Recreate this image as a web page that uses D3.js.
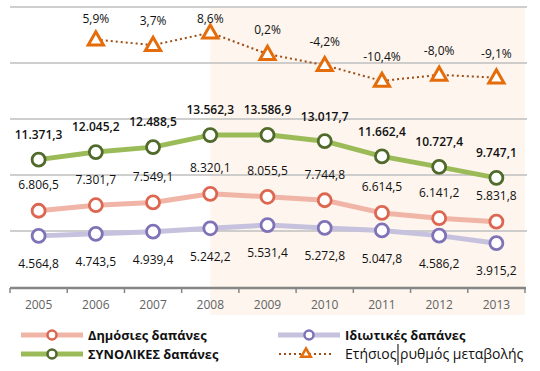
<!DOCTYPE html>
<html>
<head>
<meta charset="utf-8">
<script src="https://cdn.jsdelivr.net/npm/d3@7"></script>
<style>
  body { margin: 0; background: #fff; }
  svg text { font-family: "Open Sans", "Noto Sans", sans-serif; }
</style>
</head>
<body>
<div id="chart"></div>
<script>
// data
const years = ["2005", "2006", "2007", "2008", "2009", "2010", "2011", "2012", "2013"];
const publicSpend = [6806.5, 7301.7, 7549.1, 8320.1, 8055.5, 7744.8, 6614.5, 6141.2, 5831.8];
const privateSpend = [4564.8, 4743.5, 4939.4, 5242.2, 5531.4, 5272.8, 5047.8, 4586.2, 3915.2];
const totalSpend = [11371.3, 12045.2, 12488.5, 13562.3, 13586.9, 13017.7, 11662.4, 10727.4, 9747.1];
const changeYears = ["2006", "2007", "2008", "2009", "2010", "2011", "2012", "2013"];
const changePct = [5.9, 3.7, 8.6, 0.2, -4.2, -10.4, -8.0, -9.1];
const gridTicks = [0, 5000, 10000, 15000, 20000, 25000];
const shadedFrom = "2008";

const width = 540, height = 371;
const plotLeft = 10, plotRight = 525, plotTop = 7, plotBottom = 287;

const svg = d3.select("#chart").append("svg")
  .attr("width", width)
  .attr("height", height);

const x = d3.scaleBand().domain(years).range([plotLeft, plotRight]).padding(0);
const cx = d => x(d) + x.bandwidth() / 2;
const y = d3.scaleLinear().domain([0, 25000]).range([plotBottom, plotTop]);
const yPct = d3.scaleLinear().domain([-91.5, 18.7]).range([plotBottom, plotTop]);

const fmtNum = v => d3.format(",.1f")(v).replace(/,/g, "#").replace(".", ",").replace(/#/g, ".");
const fmtPct = v => d3.format(".1f")(v).replace(".", ",").replace("−", "-") + "%";

// shaded period
svg.append("rect")
  .attr("x", cx(shadedFrom))
  .attr("y", plotTop)
  .attr("width", plotRight - cx(shadedFrom))
  .attr("height", 315 - plotTop)
  .attr("fill", "#fdf5ee");

// gridlines
svg.append("g")
  .selectAll("line")
  .data(gridTicks.slice(1))
  .enter()
  .append("line")
  .attr("x1", plotLeft)
  .attr("x2", plotRight + 2)
  .attr("y1", d => y(d))
  .attr("y2", d => y(d))
  .attr("stroke", "#bfbfbf")
  .attr("stroke-width", 1.5);

// x axis: labels from axisBottom, ticks on category edges
const axis = svg.append("g")
  .attr("transform", "translate(0," + (plotBottom + 1) + ")")
  .call(d3.axisBottom(x).tickSize(0).tickPadding(12));
axis.select(".domain").remove();
axis.selectAll("text")
  .attr("font-size", 12)
  .attr("fill", "#636363")
  .style("font-family", "'Open Sans', sans-serif");

svg.append("line")
  .attr("x1", plotLeft).attr("x2", plotRight + 1)
  .attr("y1", plotBottom + 1).attr("y2", plotBottom + 1)
  .attr("stroke", "#868686").attr("stroke-width", 2.5);
svg.append("g")
  .selectAll("line")
  .data(years.map(d => x(d)).concat([plotRight]))
  .enter()
  .append("line")
  .attr("x1", d => d).attr("x2", d => d)
  .attr("y1", plotBottom + 1).attr("y2", plotBottom + 6)
  .attr("stroke", "#868686").attr("stroke-width", 1.5);

// circle-marker series
function drawSeries(values, lineColor, markerColor, labelDy, weight) {
  const pts = values.map((v, i) => [cx(years[i]), y(v)]);
  svg.append("path")
    .attr("d", d3.line()(pts))
    .attr("fill", "none")
    .attr("stroke", lineColor)
    .attr("stroke-width", 5)
    .attr("stroke-linejoin", "round");
  svg.append("g")
    .selectAll("circle")
    .data(values)
    .enter()
    .append("circle")
    .attr("cx", (d, i) => cx(years[i]))
    .attr("cy", d => y(d))
    .attr("r", 6.5)
    .attr("fill", "#fff")
    .attr("stroke", markerColor)
    .attr("stroke-width", 2.8);
  svg.append("g")
    .selectAll("text")
    .data(values)
    .enter()
    .append("text")
    .attr("x", (d, i) => cx(years[i]))
    .attr("y", d => y(d) + labelDy)
    .attr("dy", "0.36em")
    .attr("text-anchor", "middle")
    .attr("font-size", 12)
    .attr("font-weight", weight)
    .attr("fill", "#111")
    .text(d => fmtNum(d));
}

drawSeries(privateSpend, "#c6c1dd", "#7f72b7", 28, 400);
drawSeries(publicSpend, "#f1b5a8", "#dc6650", -26, 400);
drawSeries(totalSpend, "#9bbb59", "#4f6a2a", -25, 600);

// annual change (secondary scale)
const triangle = d3.symbol().type(d3.symbolTriangle).size(100);
const pctPts = changePct.map((v, i) => [cx(changeYears[i]), yPct(v)]);
svg.append("path")
  .attr("d", d3.line()(pctPts))
  .attr("fill", "none")
  .attr("stroke", "#9c4f16")
  .attr("stroke-width", 2)
  .attr("stroke-dasharray", "2,3");
svg.append("g")
  .selectAll("path")
  .data(changePct)
  .enter()
  .append("path")
  .attr("d", triangle)
  .attr("transform", (d, i) => "translate(" + cx(changeYears[i]) + "," + (yPct(d) + 1) + ")")
  .attr("fill", "#fff")
  .attr("stroke", "#e46c0a")
  .attr("stroke-width", 3)
  .attr("stroke-linejoin", "miter");
svg.append("g")
  .selectAll("text")
  .data(changePct)
  .enter()
  .append("text")
  .attr("x", (d, i) => cx(changeYears[i]))
  .attr("y", d => Math.max(yPct(d) - 24, 19))
  .attr("dy", "0.36em")
  .attr("text-anchor", "middle")
  .attr("font-size", 12)
  .attr("fill", "#111")
  .text(d => fmtPct(d));

// legend
const legend = svg.append("g");
function legendCircle(x0, yy, lineColor, markerColor, label) {
  legend.append("line")
    .attr("x1", x0).attr("x2", x0 + 62)
    .attr("y1", yy).attr("y2", yy)
    .attr("stroke", lineColor).attr("stroke-width", 5);
  legend.append("circle")
    .attr("cx", x0 + 31).attr("cy", yy).attr("r", 4.5)
    .attr("fill", "#fff").attr("stroke", markerColor).attr("stroke-width", 2.5);
  legend.append("text")
    .attr("x", x0 + 67).attr("y", yy).attr("dy", "0.36em")
    .attr("font-size", 12.8).attr("font-weight", "bold").attr("fill", "#111")
    .text(label);
}
legendCircle(21, 335, "#f1b5a8", "#dc6650", "Δημόσιες δαπάνες");
legendCircle(278, 335, "#c6c1dd", "#7f72b7", "Ιδιωτικές δαπάνες");
legendCircle(21, 354, "#9bbb59", "#4f6a2a", "ΣΥΝΟΛΙΚΕΣ δαπάνες");

legend.append("line")
  .attr("x1", 279).attr("x2", 334)
  .attr("y1", 354).attr("y2", 354)
  .attr("stroke", "#9c4f16").attr("stroke-width", 2)
  .attr("stroke-dasharray", "2,3");
legend.append("path")
  .attr("d", d3.symbol().type(d3.symbolTriangle).size(40))
  .attr("transform", "translate(306,354)")
  .attr("fill", "#fff").attr("stroke", "#e46c0a").attr("stroke-width", 2.5);
const lt = legend.append("text")
  .attr("x", 345).attr("y", 354).attr("dy", "0.36em")
  .attr("font-size", 14).attr("fill", "#111")
  .text("Ετήσιος ρυθμός μεταβολής");
const caretX = 345 + lt.node().getSubStringLength(0, 7) + 1.5;
legend.append("line")
  .attr("x1", caretX).attr("x2", caretX)
  .attr("y1", 344).attr("y2", 365)
  .attr("stroke", "#000").attr("stroke-width", 1);
</script>
</body>
</html>
